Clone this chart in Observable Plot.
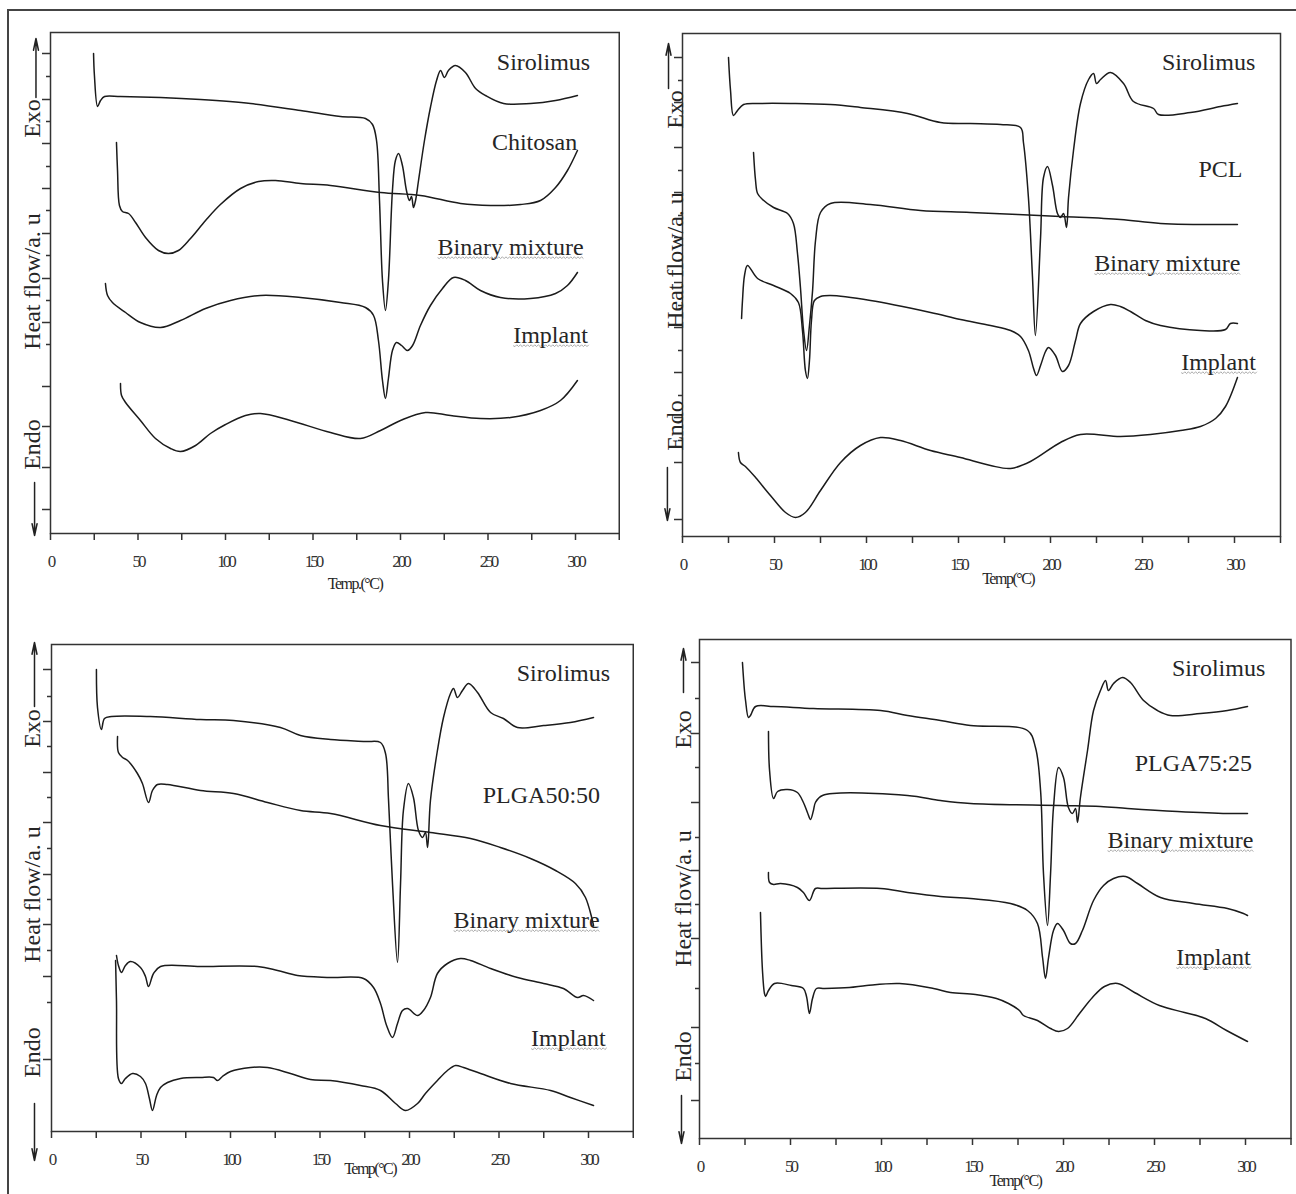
<!DOCTYPE html>
<html><head><meta charset="utf-8">
<script src="https://cdn.jsdelivr.net/npm/d3@7"></script>
<script src="https://cdn.jsdelivr.net/npm/@observablehq/plot@0.6"></script>
<style>
body{margin:0;background:#fff;}
#fig{position:relative;width:1296px;height:1194px;overflow:hidden;background:#fff;}
#fig svg{position:absolute;left:0;top:0;}
#border{position:absolute;left:7px;top:9px;width:1400px;height:1400px;border-left:2px solid #444;border-top:2px solid #444;}
g[aria-label="x-axis tick label"] text{letter-spacing:-3px;}
</style></head>
<body><div id="fig"><div id="border"></div></div>
<script>
// ---------- DATA (temperature °C, heat flow a.u.) ----------
const xMajor = [0, 50, 100, 150, 200, 250, 300];
const xMinor = [25, 75, 125, 175, 225, 275, 325];

// Panel 1: Chitosan
const p1Sirolimus = [[24.6,480],[25.1,458],[26.9,427],[28.6,433],[30.9,437],[40,437],[62.9,436],[85.7,434],[114.3,430],[142.9,423],[165.7,417],[180,415],[184,409],[186.3,393],[188,333],[189.7,253],[191.4,223],[193.1,253],[195.4,343],[197.1,373],[198.9,380],[201.1,368],[203.4,343],[205.1,333],[206.3,337],[207.4,326],[208.6,333],[210.3,353],[213.7,393],[217.1,426],[220.6,453],[222.9,463],[225.1,456],[227.4,463],[231.4,468],[237.1,461],[242.9,445],[248.6,438],[258.9,430],[274.3,430],[288.6,433],[301.1,438]];
const p1Chitosan = [[37.7,391],[38.3,363],[39.4,328],[41.1,322],[44.6,320],[48.6,311],[54.3,296],[61.7,283],[67.4,280],[73.1,283],[80,295],[88.6,313],[97.1,329],[108.6,345],[118.9,352],[128.6,353],[142.9,350],[160,348],[188.6,341],[211.4,338],[234.3,330],[251.4,328],[268.6,329],[280,333],[288.6,346],[295.4,363],[301.1,383]];
const p1Binary = [[31.4,250],[32.6,238],[35.4,231],[42.9,221],[51.4,211],[62.9,206],[74.3,213],[88.6,225],[102.9,233],[120,238],[142.9,236],[165.7,231],[180,226],[184.6,218],[187.4,193],[189.7,153],[191.4,135],[193.1,155],[195.4,183],[197.7,191],[200.6,188],[204,183],[206.9,188],[211.4,208],[217.1,228],[224,245],[230.3,256],[237.1,253],[245.7,243],[257.1,236],[274.3,235],[288.6,240],[295.4,248],[301.1,261]];
const p1Implant = [[40,150],[40.6,138],[42.9,131],[51.4,113],[60,95],[68.6,85],[74.3,82],[82.9,88],[91.4,100],[100,109],[111.4,118],[120,120],[137.1,113],[160,101],[177.1,95],[188.6,103],[200,113],[214.3,121],[228.6,118],[245.7,115],[262.9,116],[280,123],[291.4,133],[301.1,153]];

// Panel 2: PCL
const p2Sirolimus = [[25,479],[26.1,446],[27.7,421],[29.9,426],[33.2,432],[42.4,433],[58.7,433],[80.4,432],[96.7,429],[122.3,423],[140.2,414],[156.5,413],[172.8,412],[183.7,409],[185.3,394],[188,339],[190.2,260],[191.8,201],[194.6,299],[196.2,359],[198.4,370],[201.1,351],[203.8,323],[205.4,319],[207.1,323],[208.7,309],[209.8,339],[212.5,386],[216.3,433],[220.7,457],[223.4,463],[225,453],[227.2,457],[232.6,464],[239.7,453],[245.1,435],[256,428],[258.7,422],[276.1,424],[292.4,430],[301.6,433]];
const p2PCL = [[38.6,384],[39.7,356],[40.8,343],[43.5,337],[49.5,329],[57.1,323],[60.3,313],[62.5,283],[64.1,249],[65.8,206],[67.4,186],[69,211],[70.7,246],[72.3,296],[75,324],[80.4,333],[102.2,332],[129.3,326],[156.5,324],[205.4,320],[238,317],[259.8,313],[301.6,312]];
const p2Binary = [[32.1,218],[32.6,236],[33.7,261],[35.3,271],[40.8,258],[49.5,251],[58.7,243],[63,234],[65.2,206],[66.8,166],[67.9,158],[69,176],[70.1,216],[71.7,236],[75,240],[80.4,241],[102.2,236],[134.8,224],[151.1,217],[167.4,211],[178.3,206],[183.7,200],[188,186],[190.8,168],[192.4,161],[194.6,171],[197.3,185],[198.9,189],[202.7,181],[206.5,165],[209.8,171],[213.6,196],[216.3,213],[223.4,225],[232.6,232],[238,230],[243.5,225],[251.6,216],[259.8,211],[281.5,206],[295.1,207],[297.8,213],[301.6,213]];
const p2Implant = [[30.4,84],[31.5,74],[34.2,70],[39.7,59],[47.8,41],[56,24],[61.4,19],[66.8,24],[75,46],[85.9,74],[96.7,91],[107.6,99],[118.5,96],[134.8,86],[151.1,79],[167.4,71],[178.3,68],[189.1,75],[205.4,94],[216.3,102],[238,100],[254.3,102],[270.7,106],[281.5,110],[289.7,118],[295.1,130],[301.6,159]];

// Panel 3: PLGA50:50
const p3Sirolimus = [[25.1,462],[25.7,424],[27.9,402],[29.6,413],[33.5,415],[55.3,415],[83.2,412],[101.7,411],[127.9,404],[139.1,396],[155.9,392],[175.4,390],[183.8,389],[186.6,378],[188.3,331],[190.5,248],[193.3,169],[195,248],[196.6,321],[199.4,348],[202.2,334],[205,301],[207.3,294],[208.9,299],[210.1,284],[211.7,331],[215.6,381],[219,414],[222.9,438],[224.6,443],[226.8,434],[229.6,441],[233,448],[238,439],[245.3,419],[252.5,413],[260.3,404],[274.9,406],[289.9,409],[302.8,414]];
const p3PLGA = [[36.9,395],[37.4,379],[39.7,374],[42.5,371],[48,358],[50.8,348],[54.2,329],[56.4,341],[59.2,347],[64.8,347],[83.2,341],[101.7,338],[120.7,329],[139.1,321],[155.9,318],[183.8,306],[211.7,299],[234.1,293],[250.8,284],[267.6,273],[281.6,261],[292.7,248],[298.3,234],[302.8,206]];
const p3Binary = [[36.3,176],[37.4,166],[39.1,159],[41.3,166],[44.1,170],[49.7,164],[52.5,155],[54.2,145],[57,158],[60.9,165],[83.2,165],[115.1,165],[126.3,161],[137.4,156],[155.9,154],[174.3,153],[179.9,144],[183.8,128],[187.2,106],[190.5,94],[193.3,108],[196.1,121],[198.9,123],[204.5,116],[207.8,121],[211.7,134],[215.6,158],[221.2,168],[228.5,173],[234.1,171],[245.3,163],[260.3,154],[274.9,148],[286,143],[293.9,134],[297.2,136],[302.8,131]];
const p3Implant = [[35.8,171],[36.3,131],[37.4,53],[39.1,48],[41.3,53],[45.3,58],[49.7,55],[52.5,48],[54.7,33],[56.4,21],[58.7,36],[60.9,44],[64.8,49],[72.1,53],[83.2,54],[90.5,54],[92.7,51],[95.5,55],[100,60],[111.2,64],[120.7,64],[133.5,58],[144.7,52],[155.9,51],[172.6,46],[183.8,41],[192.2,28],[197.8,21],[204.5,28],[208.9,38],[215.6,51],[221.2,61],[225.7,66],[230.2,64],[239.7,58],[256.4,48],[278.8,41],[289.9,34],[302.8,26]];

// Panel 4: PLGA75:25
const p4Sirolimus = [[23.6,474],[24.7,446],[25.3,436],[26.9,419],[28,421],[30.8,430],[40.7,430],[62.6,428],[99.5,426],[114.3,421],[132.4,416],[148.9,411],[180.2,406],[184.6,389],[187.4,346],[189,263],[191.2,211],[192.9,263],[194.5,329],[197.3,369],[200,359],[202.7,329],[204.9,323],[206.6,328],[207.7,314],[209.3,339],[213.2,386],[216.5,426],[220.3,446],[223.1,456],[224.7,446],[227.5,453],[232.4,459],[236.8,454],[244,436],[251.6,426],[258.8,421],[275.3,423],[290.1,426],[301.1,430]];
const p4PLGA = [[37.9,405],[38.5,366],[40.7,338],[42.9,345],[48.4,347],[53.8,344],[57.1,334],[59.3,324],[61,317],[62.6,326],[63.7,334],[67.6,341],[114.3,341],[132.4,336],[148.9,333],[198.4,331],[220.3,330],[235.2,328],[262.6,325],[290.1,323],[301.1,323]];
const p4Binary = [[37.9,264],[38.5,254],[40.7,252],[44.5,253],[53.8,249],[57.1,244],[60.4,236],[63.7,248],[67.6,248],[99.5,248],[114.3,244],[132.4,240],[148.9,238],[170.9,233],[180.2,226],[185.7,213],[188.5,179],[190.1,158],[191.8,179],[194.5,206],[196.7,213],[200,206],[203.8,193],[206.6,193],[210.4,206],[216.5,236],[222,251],[227.5,258],[234.1,260],[240.7,253],[253.3,239],[271.4,233],[290.1,228],[298.9,223],[301.1,221]];
const p4Implant = [[33.5,224],[34.6,166],[35.7,143],[36.3,140],[37.9,146],[41.2,153],[50.5,151],[57.1,148],[58.8,140],[60.4,123],[62.1,138],[64.3,148],[68.7,148],[82.4,149],[91.8,151],[109.9,153],[128.6,148],[137.9,144],[151.6,142],[163.2,138],[169.8,133],[175.8,126],[178,121],[185.7,116],[192.9,108],[197.3,105],[202.2,108],[208.8,123],[215.9,139],[222.5,150],[229.7,153],[239,144],[252.7,131],[266.5,124],[278,118],[289.6,106],[301.1,95]];

// Curve labels: [text, T, v, wavy]
const p1Labels = [["Sirolimus",281.7,471,0],["Chitosan",276.6,391,0],["Binary mixture",262.9,286,1],["Implant",285.7,198,1]];
const p2Labels = [["Sirolimus",285.9,474,0],["PCL",292.4,367,0],["Binary mixture",263.5,273,1],["Implant",291.3,174,1]];
const p3Labels = [["Sirolimus",286,458,0],["PLGA50:50",273.7,336,0],["Binary mixture",265.4,211,1],["Implant",288.8,93,1]];
const p4Labels = [["Sirolimus",285.2,468,0],["PLGA75:25",271.4,373,0],["Binary mixture",264.3,296,1],["Implant",282.4,179,1]];

// Y-axis (unlabelled) tick positions, a.u.
const p1YMajor = [480,434,390,345,300,255,211,147,107,66,24];
const p1YMinor = [457,412,367,323,278,233,189];
const p2YMajor = [479,434,389,344,299,254,209,164,119,74,17];
const p2YMinor = [456,411,366,321,276,231,186,141,96];
const p3YMajor = [462,410,359,309,257,207,155,72];
const p3YMinor = [435,385,334,283,232,181,129];
const p4YMajor = [474,403,334,266,198,109,36];
const p4YMinor = [438,369,299,232,148,73];

// ---------- RENDER ----------
const SERIF = "Liberation Serif, Times New Roman, serif";
const INK = "#262626";
const WAVY = new Set(["Binary mixture", "Implant"]);

function toRows(name, arr){ return arr.map(([T,v]) => ({name, T, v})); }

function decorate(svg){
  svg.querySelectorAll("text").forEach(t => {
    const s = t.textContent;
    if (s.startsWith("Temp")) t.style.letterSpacing = "-1.5px";
    if (!WAVY.has(s) || t.getAttribute("font-size") === null && !t.closest("g")) return;
    if (!WAVY.has(s)) return;
    const b = t.getBBox();
    if (!b.width) return;
    const y = b.y + b.height - 2.5;
    let d = `M${b.x.toFixed(1)},${y.toFixed(1)}`;
    let i = 0;
    for (let x = b.x; x < b.x + b.width - 1; x += 1.8, i++) {
      d += ` L${(x + 1.8).toFixed(1)},${(y + (i % 2 ? -0.9 : 0.9)).toFixed(1)}`;
    }
    const p = document.createElementNS("http://www.w3.org/2000/svg", "path");
    p.setAttribute("d", d);
    p.setAttribute("fill", "none");
    p.setAttribute("stroke", "#a9a9a9");
    p.setAttribute("stroke-width", "1");
    const tr = t.getAttribute("transform");
    if (tr) p.setAttribute("transform", tr);
    t.parentNode.insertBefore(p, t);
  });
}

function panel(cfg){
  const rows = cfg.curves.flatMap(([n,a]) => toRows(n,a));
  const labs = cfg.labels.map(([text,T,v,w]) => ({text,T,v,w}));
  const k = cfg.pxPerDeg, H = cfg.bottom - cfg.top;
  const yTopVal = cfg.v0 + H;
  const marks = [
    Plot.frame({stroke:"#333", strokeWidth:1.5}),
    Plot.axisX(xMajor, {anchor:"bottom", tickSize:7, tickPadding:14, fontSize:17, fontFamily:SERIF, color:"#333", strokeWidth:1.5, tickFormat:d=>String(d), label:null}),
    Plot.axisX(xMinor, {anchor:"bottom", tickSize:7, color:"#333", strokeWidth:1.5, tickFormat:()=>"", label:null}),
    Plot.axisY(cfg.yMajor, {anchor:"left", tickSize:8, color:"#333", strokeWidth:1.5, tickFormat:()=>"", label:null}),
    Plot.axisY(cfg.yMinor, {anchor:"left", tickSize:4, color:"#333", strokeWidth:1.5, tickFormat:()=>"", label:null}),
    Plot.line(rows, {x:"T", y:"v", z:"name", stroke:"#1b1b1b", strokeWidth:1.5, curve:"catmull-rom"}),
    Plot.text(labs, {x:"T", y:"v", text:"text", fontSize:24, fontFamily:SERIF, fill:INK}),
    Plot.text(cfg.titles, {x:"T", y:"v", text:"text", rotate:-90, fontSize:24, fontFamily:SERIF, fill:INK}),
    Plot.arrow(cfg.arrows, {x1:"T", y1:"v1", x2:"T", y2:"v2", stroke:"#222", strokeWidth:1.5, headLength:12, headAngle:24}),
    Plot.text([cfg.temp], {x:"T", y:"v", text:"text", fontSize:16, fontFamily:SERIF, fill:INK})
  ];
  const svg = Plot.plot({
    width:1296, height:1194,
    marginLeft:cfg.x0, marginRight:1296 - (cfg.x0 + 325*k),
    marginTop:cfg.top, marginBottom:1194 - cfg.bottom,
    x:{domain:[0,325], label:null},
    y:{domain:[cfg.v0, yTopVal], label:null},
    style:{background:"transparent", overflow:"visible", fontFamily:SERIF, color:"#333"},
    marks
  });
  document.getElementById("fig").appendChild(svg);
  decorate(svg);
}

panel({
  x0:50, pxPerDeg:1.75, top:32, bottom:533, v0:0,
  curves:[["Sirolimus",p1Sirolimus],["Chitosan",p1Chitosan],["Binary mixture",p1Binary],["Implant",p1Implant]],
  labels:p1Labels, yMajor:p1YMajor, yMinor:p1YMinor,
  titles:[{text:"Exo",T:-10.3,v:415},{text:"Heat flow/a. u",T:-10.3,v:252},{text:"Endo",T:-10.3,v:89}],
  arrows:[{T:-8.3,v1:436,v2:495},{T:-9.1,v1:51,v2:-2}],
  temp:{text:"Temp.(°C)",T:174,v:-50}
});
panel({
  x0:682, pxPerDeg:1.84, top:33, bottom:536, v0:0,
  curves:[["Sirolimus",p2Sirolimus],["PCL",p2PCL],["Binary mixture",p2Binary],["Implant",p2Implant]],
  labels:p2Labels, yMajor:p2YMajor, yMinor:p2YMinor,
  titles:[{text:"Exo",T:-3.8,v:427},{text:"Heat flow/a. u",T:-3.8,v:276},{text:"Endo",T:-3.8,v:111}],
  arrows:[{T:-7.6,v1:448,v2:493},{T:-8.2,v1:69,v2:16}],
  temp:{text:"Temp(°C)",T:177,v:-42}
});
panel({
  x0:51, pxPerDeg:1.79, top:644, bottom:1131, v0:0,
  curves:[["Sirolimus",p3Sirolimus],["PLGA50:50",p3PLGA],["Binary mixture",p3Binary],["Implant",p3Implant]],
  labels:p3Labels, yMajor:p3YMajor, yMinor:p3YMinor,
  titles:[{text:"Exo",T:-10.6,v:403},{text:"Heat flow/a. u",T:-10.6,v:237},{text:"Endo",T:-10.6,v:79}],
  arrows:[{T:-9.5,v1:425,v2:489},{T:-9.5,v1:28,v2:-29}],
  temp:{text:"Temp(°C)",T:178,v:-37}
});
panel({
  x0:699, pxPerDeg:1.82, top:639, bottom:1138, v0:-2,
  curves:[["Sirolimus",p4Sirolimus],["PLGA75:25",p4PLGA],["Binary mixture",p4Binary],["Implant",p4Implant]],
  labels:p4Labels, yMajor:p4YMajor, yMinor:p4YMinor,
  titles:[{text:"Exo",T:-8.8,v:407},{text:"Heat flow/a. u",T:-8.8,v:238},{text:"Endo",T:-8.8,v:80}],
  arrows:[{T:-8.8,v1:444,v2:488},{T:-9.9,v1:41,v2:-7}],
  temp:{text:"Temp(°C)",T:173.6,v:-44}
});
</script></body></html>
